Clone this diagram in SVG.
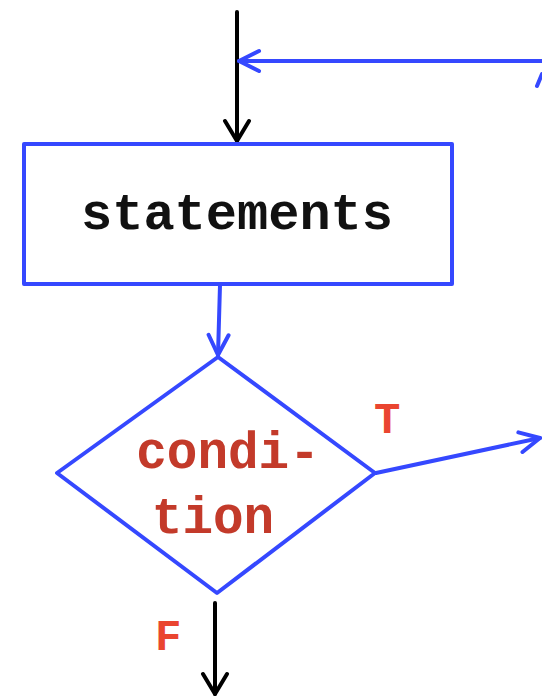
<svg xmlns="http://www.w3.org/2000/svg" width="542" height="697" viewBox="0 0 542 697">
  <style>
    .blue { stroke: #3548ff; stroke-width: 4; fill: none; stroke-linecap: round; stroke-linejoin: round; }
    .black { stroke: #000; stroke-width: 4; fill: none; stroke-linecap: round; }
    .code { font-family: "Liberation Mono", "Courier New", monospace; font-weight: bold; }
    .stmt { font-size: 52px; fill: #111; }
    .cond { font-size: 51px; fill: #c33a2a; }
    .flag { font-size: 44px; fill: #ea4530; }
  </style>
  <defs>
    <marker id="headBlue" viewBox="-24 -14 26 28" markerWidth="26" markerHeight="28" refX="0" refY="0" orient="auto" markerUnits="userSpaceOnUse">
      <path d="M-20,-10 L0,0 L-20,10" fill="none" stroke="#3548ff" stroke-width="4" stroke-linecap="round" stroke-linejoin="round"/>
    </marker>
    <marker id="headBlack" viewBox="-24 -16 26 32" markerWidth="26" markerHeight="32" refX="0" refY="0" orient="auto" markerUnits="userSpaceOnUse">
      <path d="M-20,-12 L0,0 L-20,12" fill="none" stroke="#000" stroke-width="4" stroke-linecap="round" stroke-linejoin="round"/>
    </marker>
  </defs>

  <g id="connectors">
    <line class="black" x1="237" y1="12" x2="237" y2="141" marker-end="url(#headBlack)"/>
    <line class="blue" x1="545" y1="61" x2="239" y2="61" marker-end="url(#headBlue)"/>
    <line class="blue" x1="537" y1="86" x2="542" y2="74"/>
    <line class="blue" x1="220" y1="285" x2="218" y2="355" marker-end="url(#headBlue)"/>
    <line class="blue" x1="376" y1="473" x2="540" y2="438" marker-end="url(#headBlue)"/>
    <line class="black" x1="215" y1="603" x2="215" y2="694" marker-end="url(#headBlack)"/>
  </g>

  <g id="statements">
    <rect class="blue" x="24" y="144" width="428" height="140"/>
    <text class="code stmt" x="237" y="229" text-anchor="middle">statements</text>
  </g>

  <g id="condition">
    <polygon class="blue" points="218,357 375,473 217,593 57,473"/>
    <text class="code cond" x="228" y="468" text-anchor="middle">condi-</text>
    <text class="code cond" x="213" y="533" text-anchor="middle">tion</text>
  </g>

  <g id="labels">
    <text class="code flag" x="374" y="433" text-anchor="start">T</text>
    <text class="code flag" x="155" y="650" text-anchor="start">F</text>
  </g>
</svg>
